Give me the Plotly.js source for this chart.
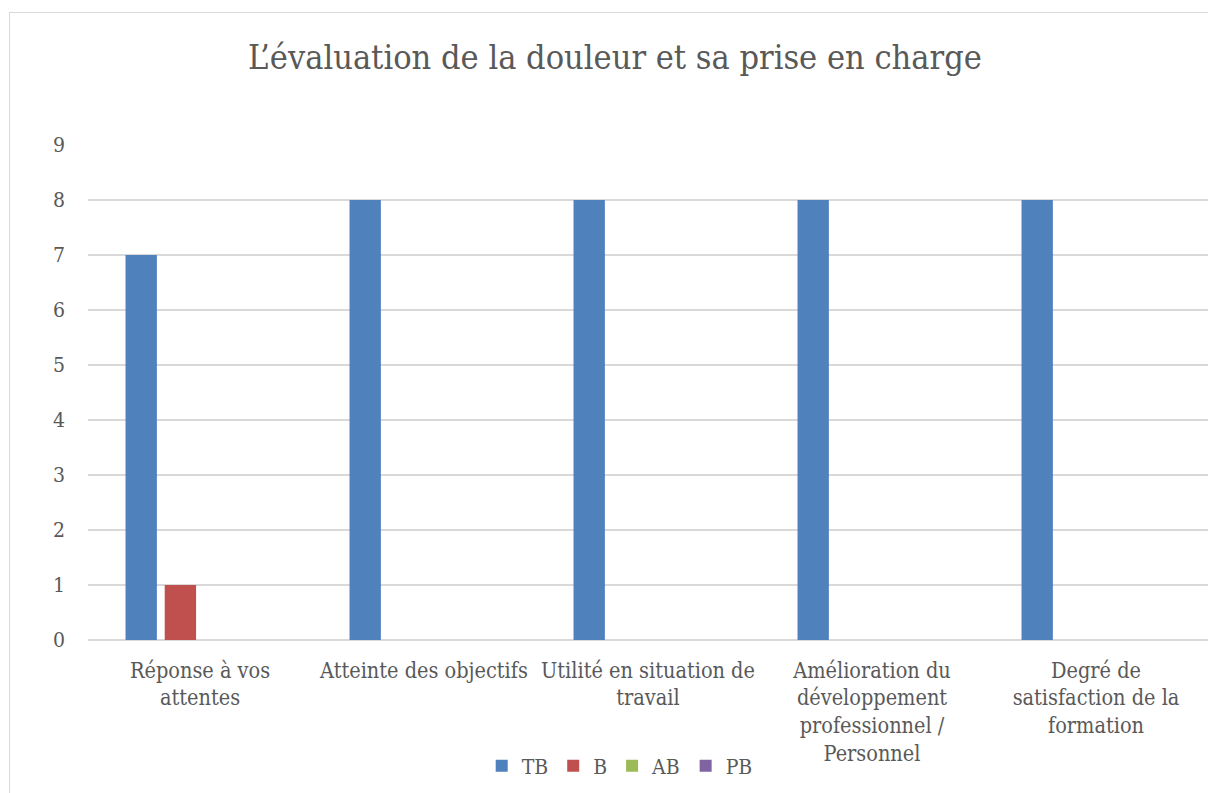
<!DOCTYPE html>
<html>
<head>
<meta charset="utf-8">
<script src="https://cdn.plot.ly/plotly-3.0.1.min.js"></script>
<style>
html,body{margin:0;padding:0;background:#fff;overflow:hidden;}
#chart{width:1208px;height:793px;}
#frame{position:absolute;left:9px;top:12px;width:1300px;height:900px;border:1.5px solid #d9d9d9;pointer-events:none;box-sizing:border-box;}
</style>
</head>
<body>
<div id="chart"></div>
<div id="frame"></div>
<script>
const categories = [
  "Réponse à vos<br>attentes",
  "Atteinte des objectifs",
  "Utilité en situation de<br>travail",
  "Amélioration du<br>développement<br>professionnel /<br>Personnel",
  "Degré de<br>satisfaction de la<br>formation"
];
const seriesNames = ["TB", "B", "AB", "PB"];
const valuesTB = [7, 8, 8, 8, 8];
const valuesB  = [1, 0, 0, 0, 0];
const valuesAB = [0, 0, 0, 0, 0];
const valuesPB = [0, 0, 0, 0, 0];
const yTicks = [0,1,2,3,4,5,6,7,8,9];

const colors = ["#4F81BD", "#C0504D", "#9BBB59", "#8064A2"];
const allValues = [valuesTB, valuesB, valuesAB, valuesPB];
const FONT = "DejaVu Serif Condensed, DejaVu Serif, serif";

const data = allValues.map((v, i) => ({
  type: "bar",
  name: seriesNames[i],
  x: categories,
  y: v,
  marker: {color: colors[i]},
  hoverinfo: "x+y+name"
}));

const layout = {
  width: 1208, height: 793,
  paper_bgcolor: "#fff", plot_bgcolor: "#fff",
  margin: {l: 88, r: 0, t: 145, b: 153},
  barmode: "group",
  bargap: 0.3,
  bargroupgap: 0.2,
  font: {family: FONT, color: "#595959", size: 21},
  title: {
    text: "L’évaluation de la douleur et sa prise en charge",
    font: {family: FONT, size: 34, color: "#595959"},
    x: 0.509, xref: "container", xanchor: "center",
    y: 0.928, yref: "container", yanchor: "middle"
  },
  xaxis: {
    type: "category",
    showgrid: false,
    showline: false,
    ticks: "",
    tickangle: 0,
    ticklabelstandoff: 15,
    tickfont: {family: FONT, size: 21.5, color: "#595959"}
  },
  yaxis: {
    range: [0, 9],
    tickvals: yTicks,
    ticktext: yTicks.map(String),
    showgrid: true,
    gridcolor: "#d9d9d9",
    gridwidth: 1.5,
    zeroline: true,
    zerolinecolor: "#d9d9d9",
    zerolinewidth: 1.5,
    showline: false,
    ticks: "",
    ticklabelstandoff: 22,
    tickfont: {family: FONT, size: 21, color: "#595959"}
  },
  showlegend: true,
  legend: {
    orientation: "h",
    x: 0.513, xref: "container", xanchor: "center",
    y: 0.034, yref: "container", yanchor: "middle",
    font: {family: FONT, size: 21, color: "#595959"},
    itemwidth: 30,
    traceorder: "normal"
  }
};

Plotly.newPlot("chart", data, layout, {displayModeBar: false, staticPlot: true});
</script>
</body>
</html>
